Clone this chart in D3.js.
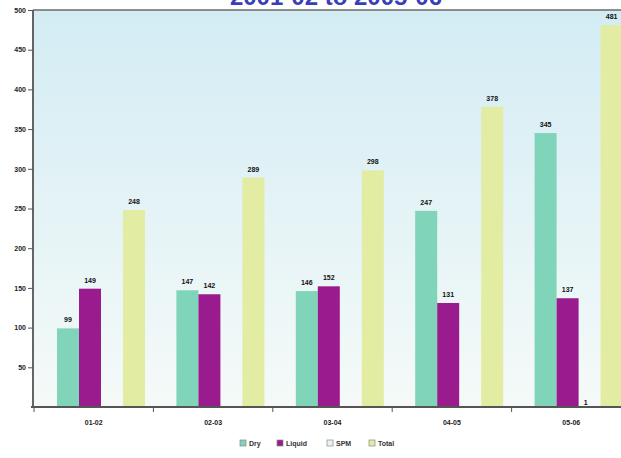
<!DOCTYPE html>
<html><head><meta charset="utf-8">
<script src="https://cdn.jsdelivr.net/npm/d3@7"></script>
<style>body{margin:0;background:#fff;}svg{display:block;font-family:"Liberation Sans",Arial,sans-serif;}</style>
</head><body>
<svg id="c" width="621" height="458"></svg>
<script>
const categories = ["01-02","02-03","03-04","04-05","05-06"];
const seriesNames = ["Dry","Liquid","SPM","Total"];
const dry    = [99, 147, 146, 247, 345];
const liquid = [149, 142, 152, 131, 137];
const spm    = [0, 0, 0, 0, 1];
const total  = [248, 289, 298, 378, 481];
const yTicks = [50,100,150,200,250,300,350,400,450,500];
const titleText = "2001-02 to 2005-06";
const colors = {Dry:"#7fd4b9", Liquid:"#9a1b8d", SPM:"#e6f4f2", Total:"#e2eca3"};
const seriesVals = {Dry:dry, Liquid:liquid, SPM:spm, Total:total};

const svg = d3.select("#c");
const L = 33, T = 10, B = 407, R = 631;

const defs = svg.append("defs");
const g = defs.append("linearGradient").attr("id","bg").attr("x1",0).attr("y1",0).attr("x2",0).attr("y2",1);
g.append("stop").attr("offset","0%").attr("stop-color","#d3ecf4");
g.append("stop").attr("offset","100%").attr("stop-color","#f5faf8");

svg.append("rect").attr("x",L).attr("y",T).attr("width",R-L).attr("height",B-T).attr("fill","url(#bg)");

// title (partially cut off at top, as in the reference)
svg.append("text").attr("x",336).attr("y",4.5).attr("text-anchor","middle")
  .attr("font-size",24).attr("font-weight","bold").attr("fill","#3a3fb8").text(titleText);

const y = d3.scaleLinear().domain([0,500]).range([B,T]);
const x0 = d3.scaleBand().domain(categories).range([34, 631]).padding(0);
const x1 = d3.scaleBand().domain(seriesNames).range([23, 111]).padding(0);

// bars
categories.forEach((c,i)=>{
  const grp = svg.append("g").attr("transform",`translate(${x0(c)},0)`);
  seriesNames.forEach(s=>{
    const v = seriesVals[s][i];
    grp.append("rect").attr("x",x1(s)).attr("y",y(v)).attr("width",x1.bandwidth())
      .attr("height",B-y(v)).attr("fill",colors[s]);
    if (v > 0) {
      grp.append("text").attr("x",x1(s)+x1.bandwidth()/2 - (s==="SPM"?4:0)).attr("y", s==="SPM" ? y(v)-1 : y(v)-6)
        .attr("text-anchor","middle").attr("font-size",7).attr("font-weight","bold")
        .attr("fill","#111").text(v);
    }
  });
});

// top border
svg.append("line").attr("x1",L).attr("x2",R).attr("y1",T).attr("y2",T)
  .attr("stroke","#6a6a6a").attr("stroke-width",1.5);

// y axis
const yAxis = d3.axisLeft(y).tickValues(yTicks).tickSize(5).tickPadding(2);
const ya = svg.append("g").attr("transform",`translate(${L},0)`).call(yAxis);
ya.select(".domain").attr("d",`M0,${T}V${B+1}`).attr("stroke","#555").attr("stroke-width",1.8);
ya.selectAll(".tick line").attr("stroke","#555");
ya.selectAll(".tick text").attr("font-size",7).attr("font-weight","bold").attr("fill","#222")
  .attr("font-family","Liberation Sans, Arial, sans-serif");

// x axis
const xAxis = d3.axisBottom(x0).tickSize(0).tickPadding(13);
const xa = svg.append("g").attr("transform",`translate(0,${B})`).call(xAxis);
xa.select(".domain").attr("d",`M${L-2},0H${R}`).attr("stroke","#555").attr("stroke-width",1.8);
xa.selectAll(".tick text").attr("font-size",7).attr("font-weight","bold").attr("fill","#222")
  .attr("font-family","Liberation Sans, Arial, sans-serif");
xa.selectAll(".sep").data(categories).enter().append("line").attr("class","sep")
  .attr("x1",d=>x0(d)).attr("x2",d=>x0(d)).attr("y1",0).attr("y2",5)
  .attr("stroke","#555").attr("stroke-width",1);

// legend
const legX = [240, 277, 327, 369];
const leg = svg.append("g");
seriesNames.forEach((s,i)=>{
  leg.append("rect").attr("x",legX[i]).attr("y",440).attr("width",6).attr("height",6)
    .attr("fill",colors[s]).attr("stroke","#888").attr("stroke-width",0.7);
  leg.append("text").attr("x",legX[i]+9).attr("y",446).attr("font-size",7).attr("font-weight","bold")
    .attr("fill","#333").text(s);
});
</script>
</body></html>
